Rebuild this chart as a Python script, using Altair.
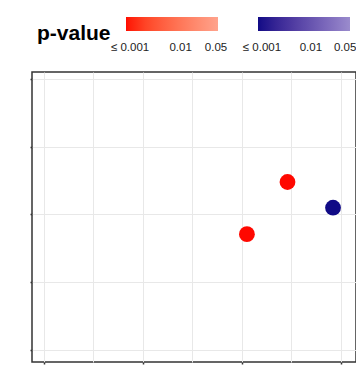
import altair as alt
import pandas as pd

# data
x_pos = [2.46, 2.05, 2.92]
y_pos = [2.48, 1.71, 2.10]
p_val = [0.0008, 0.0008, 0.0008]   # all "≤ 0.001"
group = ["red", "red", "blue"]

grid_x = [0, 0.5, 1, 1.5, 2, 2.5, 3]
grid_y = [0, 0.5, 1, 1.5, 2, 2.5, 3, 3.5, 4]
legend_vals = [0.001, 0.01, 0.05]
red_domain = [0.00083, 0.0548]
blue_domain = [0.00083, 0.063]

df = pd.DataFrame({"x": x_pos, "y": y_pos, "p": p_val, "g": group})

FONT = "Liberation Sans"
tick_op = {"condition": {"test": "datum.value % 1 === 0", "value": 1}, "value": 0}

xs = alt.Scale(domain=[-0.121, 3.152], nice=False, zero=False)
ys = alt.Scale(domain=[-0.177, 4.103], nice=False, zero=False)

x_axis = alt.Axis(values=grid_x, labels=False, title=None, domain=False,
                  tickSize=2, tickWidth=1.5, tickColor="#333", tickOpacity=tick_op,
                  gridColor="#e8e8e8", gridWidth=1)
y_axis = alt.Axis(values=grid_y, labels=False, title=None, domain=False,
                  tickSize=2, tickWidth=1.5, tickColor="#333", tickOpacity=tick_op,
                  gridColor="#e8e8e8", gridWidth=1)

label_expr = "datum.value <= 0.0011 ? '≤ 0.001' : format(datum.value, '.2f')"

red_legend = alt.Legend(
    orient="none", legendX=5, legendY=-55, direction="horizontal",
    gradientLength=92, gradientThickness=14, values=legend_vals,
    labelExpr=label_expr, labelOverlap=False,
    labelFont=FONT, labelFontSize=11.5, labelColor="#222", labelOffset=11,
    title=["", "p-value"], titleOrient="left", titleFont=FONT, titleFontSize=21,
    titleFontWeight="bold", titleColor="#000", titlePadding=15,
    titleLineHeight=19,
    padding=0, gradientStrokeWidth=0,
)
blue_legend = alt.Legend(
    orient="none", legendX=226, legendY=-55, direction="horizontal",
    gradientLength=92, gradientThickness=14, values=legend_vals,
    labelExpr=label_expr, labelOverlap=False,
    labelFont=FONT, labelFontSize=11.5, labelColor="#222", labelOffset=11,
    title=None, padding=0, gradientStrokeWidth=0,
)

base = alt.Chart(df)

red = base.transform_filter(alt.datum.g == "red").mark_circle(size=250, opacity=1).encode(
    x=alt.X("x:Q", scale=xs, axis=x_axis),
    y=alt.Y("y:Q", scale=ys, axis=y_axis),
    color=alt.Color("p:Q", scale=alt.Scale(type="log", domain=red_domain, clamp=True,
                                           range=["#ff0800", "#ffa38d"]),
                    legend=red_legend),
)
blue = base.transform_filter(alt.datum.g == "blue").mark_circle(size=250, opacity=1).encode(
    x=alt.X("x:Q", scale=xs),
    y=alt.Y("y:Q", scale=ys),
    color=alt.Color("p:Q", scale=alt.Scale(type="log", domain=blue_domain, clamp=True,
                                           range=["#100a86", "#9a8bcd"]),
                    legend=blue_legend),
)

chart = alt.layer(red, blue).resolve_scale(color="independent").properties(
    width=324, height=290,
    autosize=alt.AutoSizeParams(type="none"),
    padding={"left": 24, "top": 64, "right": 0, "bottom": 8},
).configure_view(stroke="#333", strokeWidth=1.5)

chart.save("out.html", embed_options={"renderer": "svg", "actions": False})
